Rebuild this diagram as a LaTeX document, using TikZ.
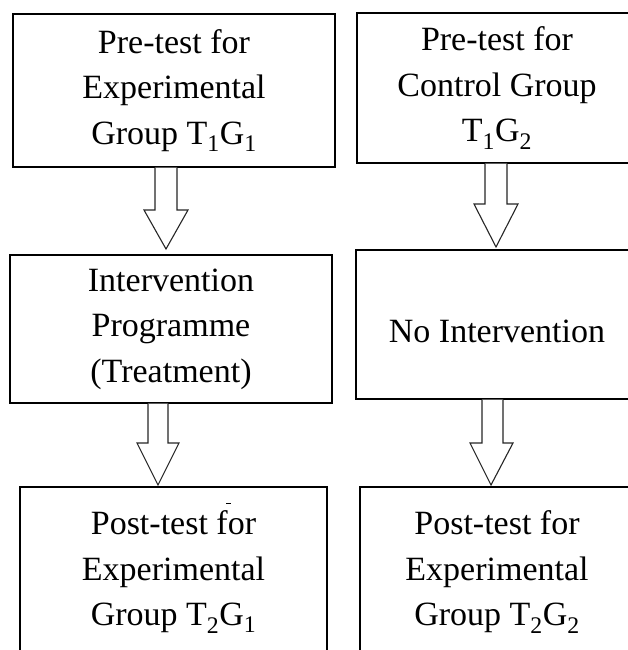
\documentclass[tikz,border=0pt]{standalone}
\usepackage{fontspec}
\setmainfont{Liberation Serif}
\usetikzlibrary{calc}
\begin{document}
\begin{tikzpicture}[x=1pt,y=1pt,
  box/.style={draw=black,line width=1.1pt,inner sep=0pt,align=center,
    font=\fontsize{34}{45.5}\selectfont},
  blockarrow/.style={draw=black!85,line width=1.1pt,fill=white,line join=miter}]
\useasboundingbox (0,0) rectangle (628,-650);
\clip (0,0) rectangle (628,-650);
% boxes
\node[box,minimum width=322,minimum height=153] (b1) at (174,-90.5)
  {Pre-test for\\Experimental\\Group T\textsubscript{1}G\textsubscript{1}};
\node[box,minimum width=280,minimum height=150] (b2) at (497,-88)
  {Pre-test for\\Control Group\\T\textsubscript{1}G\textsubscript{2}};
\node[box,minimum width=322,minimum height=148] (b3) at (171,-329)
  {Intervention\\Programme\\(Treatment)};
\node[box,minimum width=282,minimum height=149] (b4) at (497,-324.5) {};
\node[font=\fontsize{34}{45.5}\selectfont] (t4) at (497,-331) {No Intervention};
\node[box,minimum width=307,minimum height=170] (b5) at (173.5,-572)
  {Post-test for\\Experimental\\Group T\textsubscript{2}G\textsubscript{1}};
\node[box,minimum width=274,minimum height=170] (b6) at (497,-572)
  {Post-test for\\Experimental\\Group T\textsubscript{2}G\textsubscript{2}};
% block arrows
\draw[blockarrow] (155,0 |- b1.south) -- (155,-210) -- (144,-210) -- (166,-249)
  -- (188,-210) -- (177,-210) -- (177,0 |- b1.south);
\draw[blockarrow] (485,0 |- b2.south) -- (485,-204) -- (474,-204) -- (496,-247)
  -- (518,-204) -- (507,-204) -- (507,0 |- b2.south);
\draw[blockarrow] (148,0 |- b3.south) -- (148,-443) -- (137,-443) -- (158,-485)
  -- (179,-443) -- (168,-443) -- (168,0 |- b3.south);
\draw[blockarrow] (482,0 |- b4.south) -- (482,-443) -- (470,-443) -- (491,-485)
  -- (513,-443) -- (503,-443) -- (503,0 |- b4.south);
% small stray mark
\draw[line width=1pt] (226,-503) -- (231,-503);
\end{tikzpicture}
\end{document}
